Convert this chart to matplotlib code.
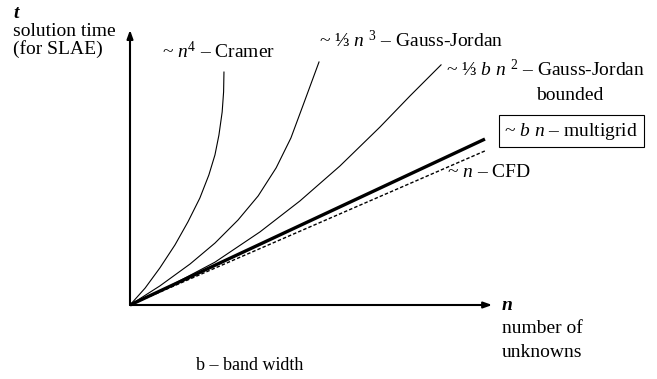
import matplotlib
matplotlib.use("Agg")
import matplotlib.pyplot as plt

plt.rcParams['font.family'] = ['Liberation Serif', 'DejaVu Serif']
plt.rcParams['mathtext.fontset'] = 'custom'
plt.rcParams['mathtext.rm'] = 'Liberation Serif'
plt.rcParams['mathtext.it'] = 'Liberation Serif:italic'
plt.rcParams['mathtext.bf'] = 'Liberation Serif:bold'

# Curves (n, t in arbitrary units)
cramer_n = [0, 0.42, 0.83, 1.25, 1.61, 1.94, 2.19, 2.36, 2.47, 2.56, 2.60, 2.61]
cramer_t = [0, 0.47, 1.03, 1.67, 2.31, 2.97, 3.61, 4.17, 4.72, 5.36, 5.92, 6.47]
gj_n = [0, 0.83, 1.67, 2.36, 3.00, 3.56, 4.06, 4.47, 4.83, 5.25]
gj_t = [0, 0.53, 1.14, 1.72, 2.36, 3.03, 3.81, 4.64, 5.61, 6.75]
gjb_n = [0, 1.11, 2.36, 3.61, 4.72, 5.83, 6.94, 7.78, 8.64]
gjb_t = [0, 0.53, 1.19, 2.03, 2.89, 3.86, 4.94, 5.81, 6.67]
mg_n = [0, 9.86]
mg_t = [0, 4.61]
cfd_n = [0, 9.86]
cfd_t = [0, 4.28]

FS = 14

fig = plt.figure(figsize=(6.57, 3.79), dpi=100)
ax = fig.add_axes([0, 0, 1, 1])
ax.set_xlim(-130 / 36, (657 - 130) / 36)
ax.set_ylim(-(379 - 305) / 36, 305 / 36)
ax.axis('off')

ax.plot(cramer_n, cramer_t, color='black', lw=0.8)
ax.plot(gj_n, gj_t, color='black', lw=0.8)
ax.plot(gjb_n, gjb_t, color='black', lw=0.8)
ax.plot(mg_n, mg_t, color='black', lw=2.4, solid_capstyle='butt')
ax.plot(cfd_n, cfd_t, color='black', lw=1.0, ls=(0, (2.5, 1.5)))

# axes arrows
arrow = dict(arrowstyle='-|>,head_length=0.5,head_width=0.18', color='black', lw=1.5,
             shrinkA=0, shrinkB=0)
ax.annotate('', xy=(0, 7.64), xytext=(0, 0), arrowprops=arrow)
ax.annotate('', xy=(10.06, 0), xytext=(0, 0), arrowprops=arrow)

# axis labels
ax.text(-3.25, 8.11, 't', fontsize=FS, style='italic', weight='bold', va='center', ha='left')
ax.text(-3.25, 7.60, 'solution time', fontsize=FS, va='center', ha='left')
ax.text(-3.25, 7.10, '(for SLAE)', fontsize=FS, va='center', ha='left')
ax.text(10.33, 0.0, 'n', fontsize=FS, style='italic', weight='bold', va='center', ha='left')
ax.text(10.33, -0.64, 'number of', fontsize=FS, va='center', ha='left')
ax.text(10.33, -1.31, 'unknowns', fontsize=FS, va='center', ha='left')
ax.text(1.83, -1.67, 'b – band width', fontsize=13, va='center', ha='left')

# curve labels
ax.text(0.89, 7.05, r'~ $n^4$ – Cramer', fontsize=FS, va='center', ha='left')
ax.text(5.25, 7.36, r'~ ⅓ $n$ $^3$ – Gauss-Jordan', fontsize=FS, va='center', ha='left')
ax.text(8.78, 6.53, r'~ ⅓ $b$ $n$ $^2$ – Gauss-Jordan', fontsize=FS, va='center', ha='left')
ax.text(12.22, 5.83, 'bounded', fontsize=FS, va='center', ha='center')
ax.text(12.26, 4.83, r'~ $b$ $n$ – multigrid', fontsize=FS, va='center', ha='center',
        bbox=dict(boxstyle='square,pad=0.3', fc='white', ec='black', lw=0.8))
ax.text(8.81, 3.67, r'~ $n$ – CFD', fontsize=FS, va='center', ha='left')

fig.savefig('out.png', dpi=100)
